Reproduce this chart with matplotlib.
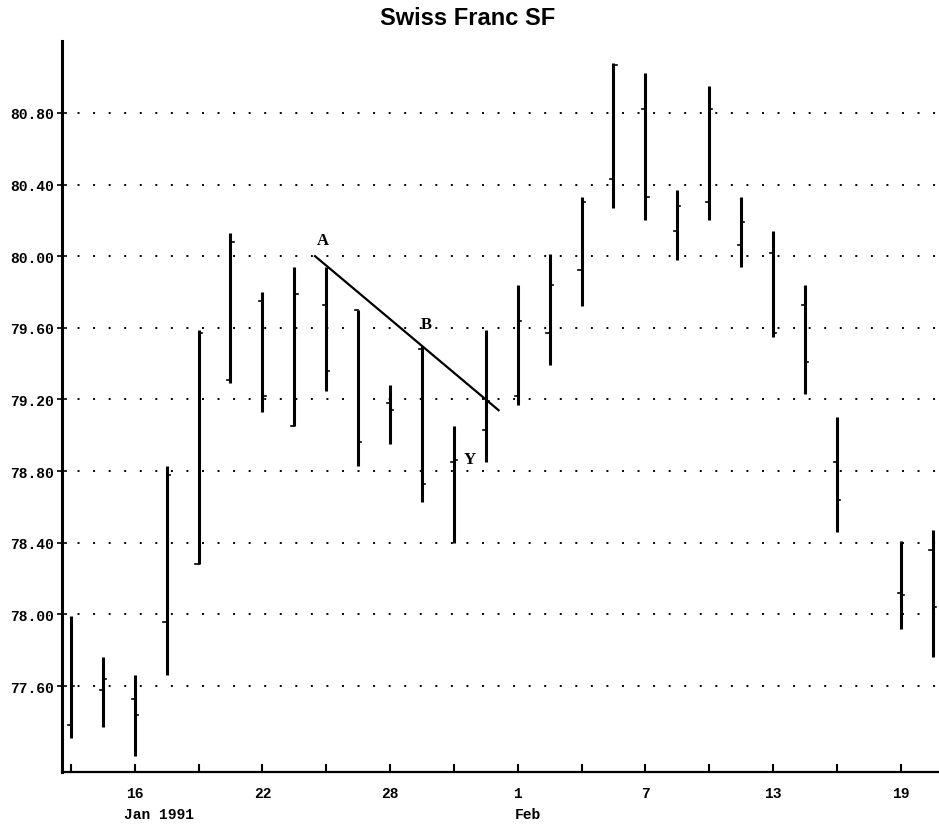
import numpy as np
import matplotlib
matplotlib.use("Agg")
import matplotlib.pyplot as plt
import matplotlib.transforms as mtransforms

# daily OHLC, Swiss franc futures, Jan-Feb 1991
dates = ["1991-01-14", "1991-01-15", "1991-01-16", "1991-01-17", "1991-01-18",
         "1991-01-21", "1991-01-22", "1991-01-23", "1991-01-24", "1991-01-25",
         "1991-01-28", "1991-01-29", "1991-01-30", "1991-01-31", "1991-02-01",
         "1991-02-04", "1991-02-05", "1991-02-06", "1991-02-07", "1991-02-08",
         "1991-02-11", "1991-02-12", "1991-02-13", "1991-02-14", "1991-02-15",
         "1991-02-19", "1991-02-20"]
opens = [77.38, 77.58, 77.53, 77.96, 78.28, 79.31, 79.75, 79.05, 79.73, 79.70,
         79.18, 79.48, 78.85, 79.03, 79.22, 79.57, 79.92, 80.43, 80.82, 80.14,
         80.30, 80.06, 80.02, 79.73, 78.85, 78.12, 78.36]
highs = [77.99, 77.76, 77.66, 78.83, 79.59, 80.13, 79.80, 79.94, 79.94, 79.70,
         79.28, 79.50, 79.05, 79.59, 79.84, 80.01, 80.33, 81.08, 81.02, 80.37,
         80.95, 80.33, 80.14, 79.84, 79.10, 78.41, 78.47]
lows = [77.31, 77.37, 77.21, 77.66, 78.28, 79.29, 79.13, 79.05, 79.25, 78.83,
        78.95, 78.63, 78.40, 78.85, 79.17, 79.39, 79.72, 80.27, 80.20, 79.98,
        80.20, 79.94, 79.55, 79.23, 78.46, 77.92, 77.76]
closes = [77.60, 77.64, 77.44, 78.78, 79.57, 80.08, 79.22, 79.79, 79.36, 78.96,
          79.14, 78.73, 78.86, 79.19, 79.64, 79.84, 80.30, 81.07, 80.33, 80.28,
          80.82, 80.19, 79.57, 79.41, 78.64, 78.11, 78.04]

tick_days = ["1991-01-16", "1991-01-22", "1991-01-28", "1991-02-01",
             "1991-02-07", "1991-02-13", "1991-02-19"]
tick_labels = ["16", "22", "28", "1", "7", "13", "19"]
y_ticks = [77.60, 78.00, 78.40, 78.80, 79.20, 79.60, 80.00, 80.40, 80.80]

# trend line A -> B and past it
trend_days = [7.65, 13.4]
trend_vals = [80.00, 79.14]

start = dates[0]
x = np.busday_count(start, dates)
xt = np.busday_count(start, tick_days)
xminor = np.arange(0, x[-1] + 1, 2)

mono = "Liberation Mono"

fig = plt.figure(figsize=(9.39, 8.28), dpi=100)
ax = fig.add_axes([0.066, 0.0664, 0.934, 0.8826])

for xi, o, h, l, c in zip(x, opens, highs, lows, closes):
    ax.plot([xi, xi], [l, h], color="black", lw=2.2, solid_capstyle="butt")
    ax.plot([xi - 0.1, xi], [o, o], color="black", lw=1.2)
    ax.plot([xi, xi + 0.1], [c, c], color="black", lw=1.2)

ax.plot(trend_days, trend_vals, color="black", lw=1.6)
ax.text(7.9, 80.09, "A", family="Liberation Serif", weight="bold", fontsize=12,
        ha="center", va="center")
ax.text(11.15, 79.62, "B", family="Liberation Serif", weight="bold", fontsize=12,
        ha="center", va="center")
ax.text(12.5, 78.87, "Y", family="Liberation Serif", weight="bold", fontsize=12,
        ha="center", va="center")

ax.set_xlim(-0.28, 27.2)
ax.set_ylim(77.12, 81.20)

ax.set_yticks(y_ticks)
ax.set_yticklabels([f"{v:.2f}" for v in y_ticks], family=mono, weight="bold",
                   fontsize=10.5)
ax.tick_params(axis="y", direction="inout", length=7, width=1.2, pad=2)
ax.yaxis.grid(True, color="black", lw=1.4, linestyle=(0, (1, 7)))

ax.set_xticks(xminor, minor=True)
ax.set_xticks(xt)
ax.set_xticklabels(tick_labels, family=mono, weight="bold", fontsize=10.5)
ax.tick_params(axis="x", which="both", direction="in", length=6, width=1.5,
               pad=10)

trans = mtransforms.blended_transform_factory(ax.transData, ax.transAxes)
ax.text(xt[0] - 0.35, -0.0575, "Jan 1991", transform=trans, family=mono,
        weight="bold", fontsize=10.5, ha="left", va="center")
ax.text(xt[3] - 0.1, -0.0575, "Feb", transform=trans, family=mono,
        weight="bold", fontsize=10.5, ha="left", va="center")

for side in ["top", "right"]:
    ax.spines[side].set_visible(False)
ax.spines["left"].set_linewidth(2.2)
ax.spines["bottom"].set_linewidth(1.6)

fig.text(0.498, 0.978, "Swiss Franc SF", family="Liberation Sans",
         weight="bold", fontsize=17, ha="center", va="center")

fig.savefig("out.png", dpi=100, facecolor="white")
